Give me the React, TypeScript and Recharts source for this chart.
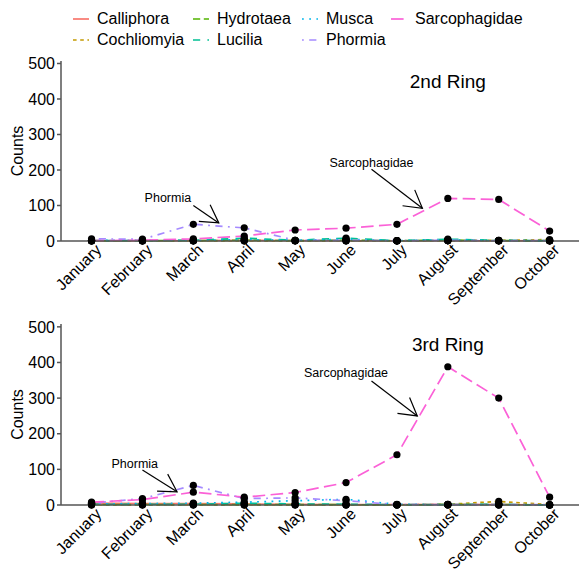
import { LineChart, Line, XAxis, YAxis, ReferenceLine, ReferenceDot } from "recharts";

const months = ["January", "February", "March", "April", "May", "June", "July", "August", "September", "October"];
const taxa = ["Calliphora", "Cochliomyia", "Hydrotaea", "Lucilia", "Musca", "Phormia", "Sarcophagidae"];
const yTicks = [0, 100, 200, 300, 400, 500];

// 2nd ring counts
const r2Calliphora = [1, 0, 1, 2, 1, 1, 0, 1, 0, 1];
const r2Cochliomyia = [0, 0, 0, 0, 0, 0, 0, 1, 2, 4];
const r2Hydrotaea = [0, 1, 1, 2, 1, 2, 1, 2, 1, 0];
const r2Lucilia = [1, 1, 2, 8, 2, 8, 1, 5, 2, 1];
const r2Musca = [2, 2, 1, 4, 2, 5, 1, 3, 1, 1];
const r2Phormia = [6, 5, 47, 37, 2, 2, 1, 2, 1, 1];
const r2Sarcophagidae = [1, 2, 6, 14, 31, 36, 47, 120, 117, 28];

// 3rd ring counts
const r3Calliphora = [5, 4, 4, 3, 2, 1, 1, 2, 1, 0];
const r3Cochliomyia = [0, 0, 0, 0, 0, 0, 0, 2, 10, 1];
const r3Hydrotaea = [1, 1, 1, 1, 1, 1, 0, 1, 1, 0];
const r3Lucilia = [2, 2, 2, 5, 3, 2, 1, 1, 2, 0];
const r3Musca = [3, 4, 5, 8, 12, 16, 2, 1, 1, 0];
const r3Phormia = [5, 18, 55, 18, 20, 12, 1, 1, 1, 1];
const r3Sarcophagidae = [8, 15, 36, 22, 35, 63, 141, 388, 300, 22];

const colors: Record<string, string> = {
  Calliphora: "#F8766D",
  Cochliomyia: "#C49A00",
  Hydrotaea: "#53B400",
  Lucilia: "#00C094",
  Musca: "#00B6EB",
  Phormia: "#A58AFF",
  Sarcophagidae: "#FB61D7",
};
const dashes: Record<string, string | undefined> = {
  Calliphora: undefined,
  Cochliomyia: "3.6 3.6",
  Hydrotaea: "7.2 3.6",
  Lucilia: "7.2 7.2",
  Musca: "1.8 5.4",
  Phormia: "1.8 5.4 7.2 5.4",
  Sarcophagidae: "12.6 5.4",
};

const buildRows = (cols: number[][]) =>
  months.map((m, i) => {
    const row: Record<string, number | string> = { x: i + 1, month: m };
    taxa.forEach((t, j) => (row[t] = cols[j][i]));
    return row;
  });

const ring2 = buildRows([r2Calliphora, r2Cochliomyia, r2Hydrotaea, r2Lucilia, r2Musca, r2Phormia, r2Sarcophagidae]);
const ring3 = buildRows([r3Calliphora, r3Cochliomyia, r3Hydrotaea, r3Lucilia, r3Musca, r3Phormia, r3Sarcophagidae]);

const FONT = "'Liberation Sans', Arial, sans-serif";
const AXIS = "#555";

const MonthTick = (props: any) => {
  const { x, y, payload } = props;
  const ax = x + 3;
  const ay = y - 4;
  return (
    <text
      x={ax}
      y={ay}
      transform={`rotate(-45 ${ax} ${ay})`}
      textAnchor="end"
      dominantBaseline="hanging"
      fontSize={16}
      fill="#000"
      fontFamily={FONT}
    >
      {months[payload.value - 1]}
    </text>
  );
};

const Arrow = (props: any) => {
  const { x1, y1, x2, y2 } = props;
  const ang = Math.atan2(y1 - y2, x1 - x2);
  const len = 20;
  const a1 = ang + Math.PI / 6;
  const a2 = ang - Math.PI / 6;
  return (
    <g stroke="#000" strokeWidth={1.2} fill="none">
      <line x1={x1} y1={y1} x2={x2} y2={y2} />
      <polyline
        points={`${x2 + len * Math.cos(a1)},${y2 + len * Math.sin(a1)} ${x2},${y2} ${x2 + len * Math.cos(a2)},${y2 + len * Math.sin(a2)}`}
      />
    </g>
  );
};

const textShape = (label: string, size: number) => (p: any) => (
  <text x={p.cx} y={p.cy} textAnchor="middle" dominantBaseline="central" fontSize={size} fill="#000" fontFamily={FONT}>
    {label}
  </text>
);

const CountsLabel = (p: any) => {
  const vb = p.viewBox || {};
  const cy = (vb.y ?? 0) + (vb.height ?? 0) / 2;
  return (
    <text
      x={17}
      y={cy}
      transform={`rotate(-90 17 ${cy})`}
      textAnchor="middle"
      dominantBaseline="central"
      fontSize={16}
      fill="#000"
      fontFamily={FONT}
    >
      Counts
    </text>
  );
};

type Note = { text: string; at: [number, number]; from: [number, number]; to: [number, number] };

function RingChart({
  data,
  title,
  notes,
  top,
  height,
  marginTop,
  marginBottom,
  yMax,
}: {
  data: any[];
  title: string;
  notes: Note[];
  top: number;
  height: number;
  marginTop: number;
  marginBottom: number;
  yMax: number;
}) {
  return (
    <div style={{ position: "absolute", left: 0, top }}>
      <LineChart width={579} height={height} data={data} margin={{ top: marginTop, right: 0, bottom: marginBottom, left: 0 }}>
        <XAxis
          dataKey="x"
          type="number"
          domain={[0.4, 10.577]}
          ticks={months.map((_, i) => i + 1)}
          tick={<MonthTick />}
          tickSize={4}
          tickMargin={2}
          height={69}
          interval={0}
          axisLine={{ stroke: AXIS, strokeWidth: 1.5 }}
          tickLine={{ stroke: AXIS, strokeWidth: 1.5 }}
        />
        <YAxis
          type="number"
          domain={[0, yMax]}
          ticks={yTicks}
          width={61}
          tickSize={4}
          tickMargin={2}
          tick={{ fill: "#000", fontSize: 16, fontFamily: FONT }}
          axisLine={{ stroke: AXIS, strokeWidth: 1.5 }}
          tickLine={{ stroke: AXIS, strokeWidth: 1.5 }}
          label={<CountsLabel />}
        />
        {taxa.map((t) => (
          <Line
            key={t}
            type="linear"
            dataKey={t}
            stroke={colors[t]}
            strokeWidth={1.7}
            strokeDasharray={dashes[t]}
            dot={false}
            activeDot={false}
            isAnimationActive={false}
          />
        ))}
        {taxa.map((t) => (
          <Line
            key={t + "-pts"}
            type="linear"
            dataKey={t}
            stroke="none"
            dot={{ r: 3.6, fill: "#000", stroke: "#000", strokeWidth: 0 }}
            activeDot={false}
            isAnimationActive={false}
          />
        ))}
        {notes.map((n) => (
          <ReferenceLine
            key={n.text + "-arrow"}
            segment={[
              { x: n.from[0], y: n.from[1] },
              { x: n.to[0], y: n.to[1] },
            ]}
            shape={(p: any) => <Arrow {...p} />}
          />
        ))}
        {notes.map((n) => (
          <ReferenceDot key={n.text} x={n.at[0]} y={n.at[1]} r={0} shape={textShape(n.text, 12.5)} />
        ))}
        <ReferenceDot x={8} y={450} r={0} shape={textShape(title, 19)} />
      </LineChart>
    </div>
  );
}

const ring2Notes: Note[] = [
  { text: "Phormia", at: [2.5, 120], from: [3.0, 100], to: [3.5, 51] },
  { text: "Sarcophagidae", at: [6.5, 220], from: [6.5, 202], to: [7.5, 92] },
];
const ring3Notes: Note[] = [
  { text: "Phormia", at: [1.85, 115], from: [2.0, 98], to: [2.68, 37] },
  { text: "Sarcophagidae", at: [6.0, 370], from: [6.5, 348], to: [7.4, 250] },
];

function Legend() {
  const colX = [73, 193, 302, 391];
  const rowY = [19, 40];
  return (
    <>
      {taxa.map((t, i) => {
        const col = Math.floor(i / 2);
        const row = i % 2;
        return (
          <div
            key={t}
            style={{
              position: "absolute",
              left: colX[col],
              top: rowY[row] - 10,
              height: 20,
              display: "flex",
              alignItems: "center",
              fontFamily: FONT,
              fontSize: 16,
              color: "#000",
              whiteSpace: "nowrap",
            }}
          >
            <svg width={16} height={6} style={{ marginRight: 8 }}>
              <line x1={0} y1={3} x2={16} y2={3} stroke={colors[t]} strokeWidth={1.7} strokeDasharray={dashes[t]} />
            </svg>
            {t}
          </div>
        );
      })}
    </>
  );
}

export default function App() {
  return (
    <div
      style={{
        position: "fixed",
        left: 0,
        top: 0,
        width: 579,
        height: 574,
        overflow: "hidden",
        background: "#fff",
        fontFamily: FONT,
      }}
    >
      <Legend />
      <RingChart data={ring2} title="2nd Ring" notes={ring2Notes} top={0} height={330} marginTop={61} marginBottom={20} yMax={507} />
      <RingChart data={ring3} title="3rd Ring" notes={ring3Notes} top={280} height={294} marginTop={44} marginBottom={0} yMax={508} />
    </div>
  );
}
